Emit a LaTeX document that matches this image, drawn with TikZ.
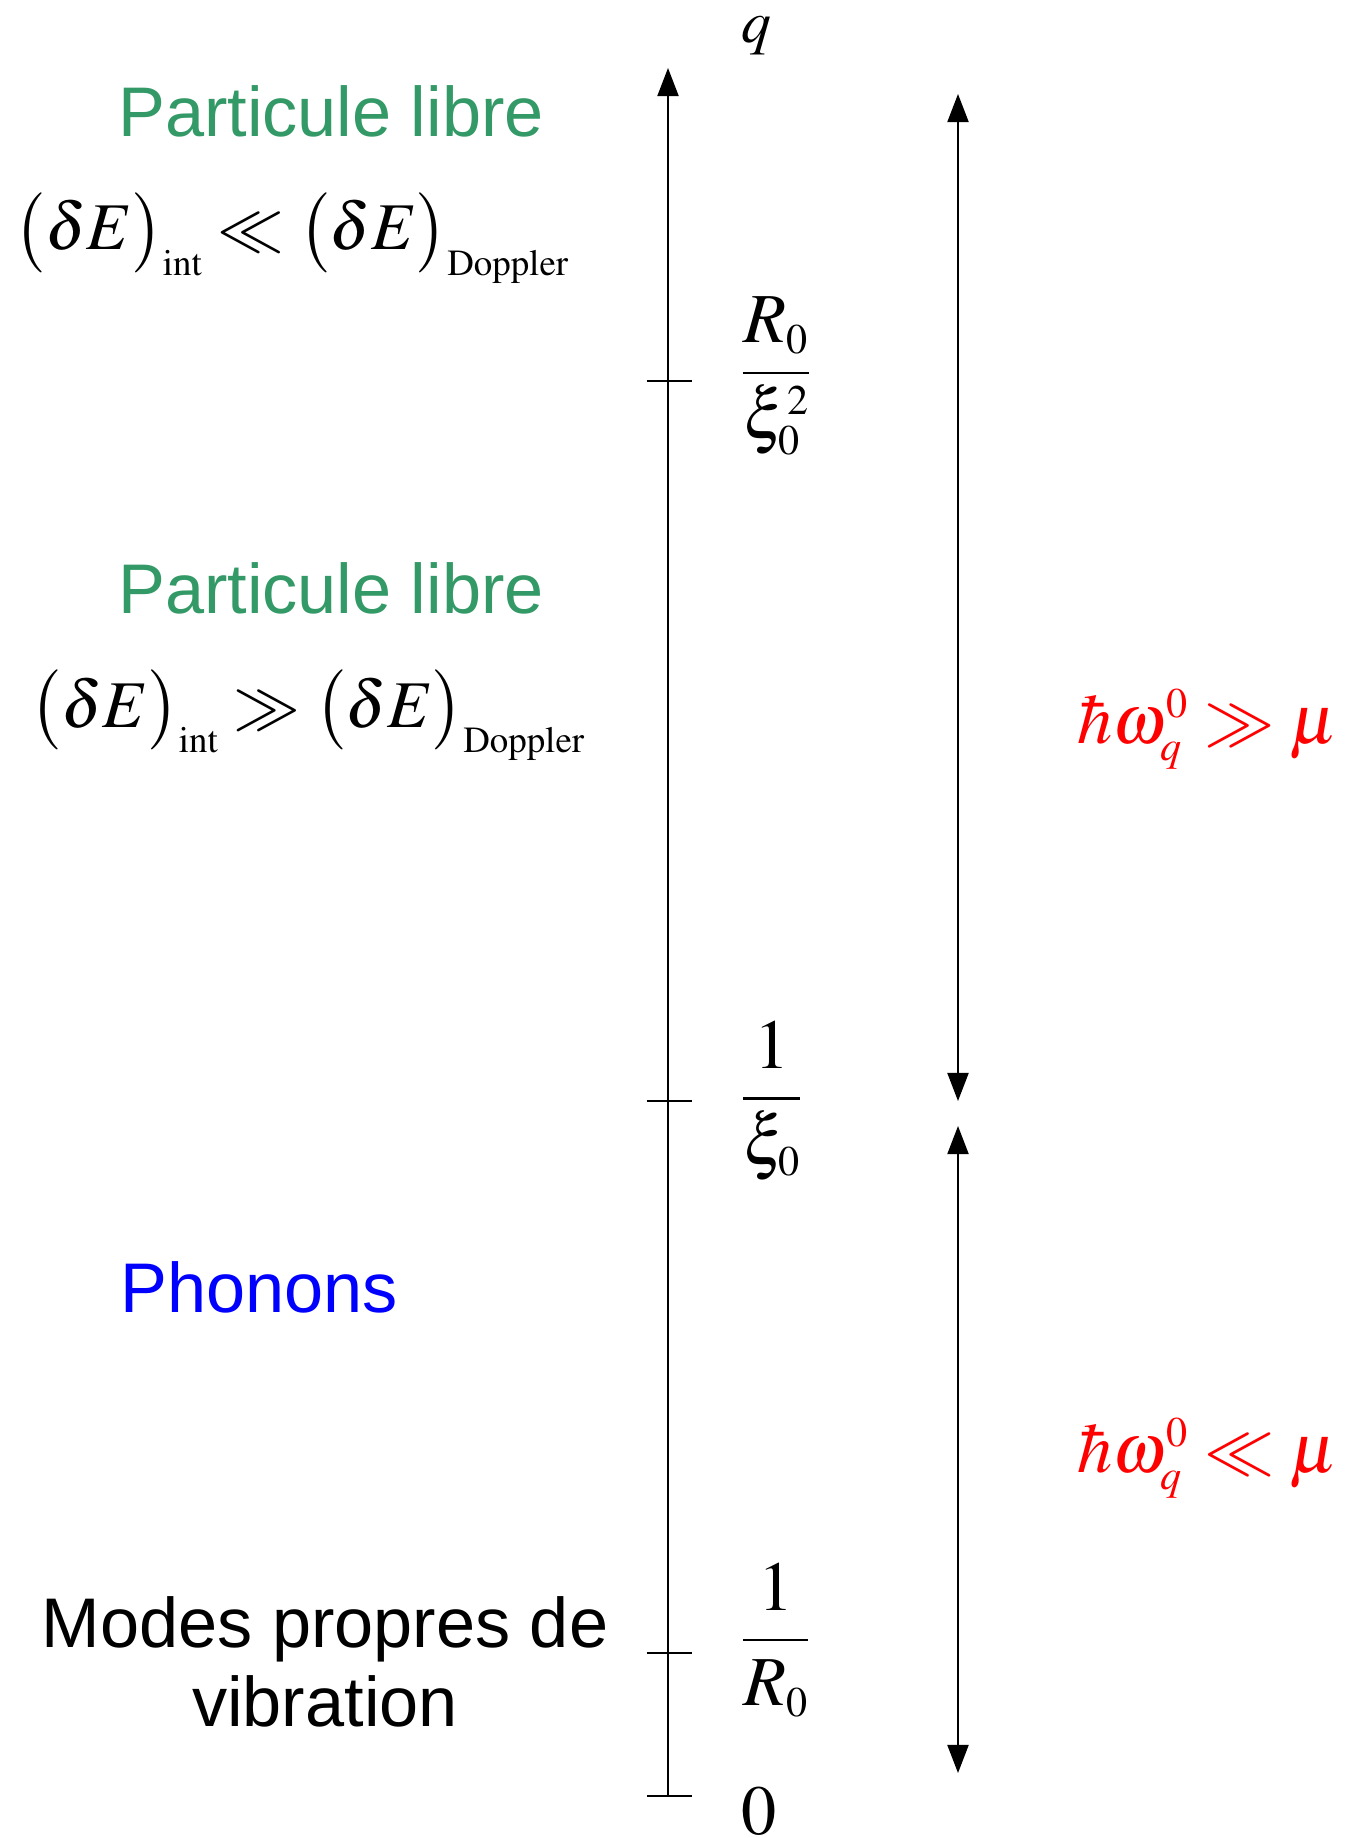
\documentclass[tikz,border=0pt]{standalone}
\usepackage{mathptmx}
\usepackage[no-math]{fontspec}
\setmainfont{Liberation Sans}
\usetikzlibrary{arrows.meta}
\definecolor{libregreen}{RGB}{51,153,102}
\DeclareMathSizes{40}{40}{24}{17}
\DeclareMathSizes{38}{38}{21}{15}
\DeclareMathSizes{34}{34}{20}{14}

\begin{document}
\begin{tikzpicture}
% one unit = one pixel of the sketch
\def\px{0.02cm}
\providecommand{\axisLineWidth}{1.1pt}
\tikzset{
  axisline/.style={line width=\axisLineWidth, line cap=butt},
  tip/.style={-{Triangle[width=12pt,length=16pt]}},
  bothtips/.style={{Triangle[width=12pt,length=16pt]}-{Triangle[width=12pt,length=16pt]}},
  bigtext/.style={font=\fontsize{40}{44.5}\selectfont, inner sep=0pt},
  bigmath/.style={font=\fontsize{40}{48}\selectfont, inner sep=0pt},
  condmath/.style={font=\fontsize{38}{46}\selectfont, inner sep=0pt},
}
\begin{scope}[x=\px, y=-\px]
  % Page frame
  \useasboundingbox (0,0) rectangle (1345,1838);
  % q axis
  \coordinate (axisbot) at (668,1796);
  \coordinate (axistop) at (668,68);
  \draw[axisline, tip] (axisbot) -- (axistop);
  \node[inner sep=0pt, font=\fontsize{34}{40}\selectfont, anchor=base west] (qlabel) at (741,43) {$q$};
  % Ticks
  \foreach \name/\yy in {tkA/381, tkB/1101, tkC/1653, tkD/1796} {
    \coordinate (\name-l) at (647,\yy);
    \coordinate (\name-r) at (692,\yy);
    \draw[axisline] (\name-l) -- (\name-r);
  }
  % Tick labels
  \node[bigmath, anchor=west] (fracA) at (741,376) {$\displaystyle\frac{R_0}{\xi_0^{2}}$};
  \node[bigmath, anchor=west] (fracB) at (741,1101) {$\displaystyle\frac{1}{\xi_0}$};
  \node[bigmath, anchor=west] (fracC) at (741,1640) {$\displaystyle\frac{1}{R_0}$};
  \node[bigmath, anchor=base west] (zero) at (741,1834) {$0$};
  % Regime arrows
  \coordinate (hiTop) at (958,94);
  \coordinate (hiBot) at (958,1101);
  \coordinate (loTop) at (958,1126);
  \coordinate (loBot) at (958,1773);
  \draw[axisline, bothtips] (hiBot) -- (hiTop);
  \draw[axisline, bothtips] (loBot) -- (loTop);
  \node[bigmath, text=red, anchor=base west] (hiLabel) at (1077,743) {$\hbar\omega_q^0 \gg \mu$};
  \node[bigmath, text=red, anchor=base west] (loLabel) at (1077,1472) {$\hbar\omega_q^0 \ll \mu$};
  % Regimes, left side
  \node[bigtext, text=libregreen, anchor=base] (freeA) at (331,137) {Particule libre};
  \node[condmath, anchor=base] (condA) at (292,250)
    {$\bigl(\delta E\bigr)_{\mathrm{int}} \ll \bigl(\delta E\bigr)_{\mathrm{Doppler}}$};
  \node[bigtext, text=libregreen, anchor=base] (freeB) at (331,613) {Particule libre};
  \node[condmath, anchor=base] (condB) at (308,727)
    {$\bigl(\delta E\bigr)_{\mathrm{int}} \gg \bigl(\delta E\bigr)_{\mathrm{Doppler}}$};
  \node[bigtext, text=blue, anchor=base] (phonons) at (259,1312) {Phonons};
  \node[bigtext, align=center, anchor=base] (modes) at (325,1726) {Modes propres de\\vibration};
\end{scope}
\end{tikzpicture}
\end{document}
